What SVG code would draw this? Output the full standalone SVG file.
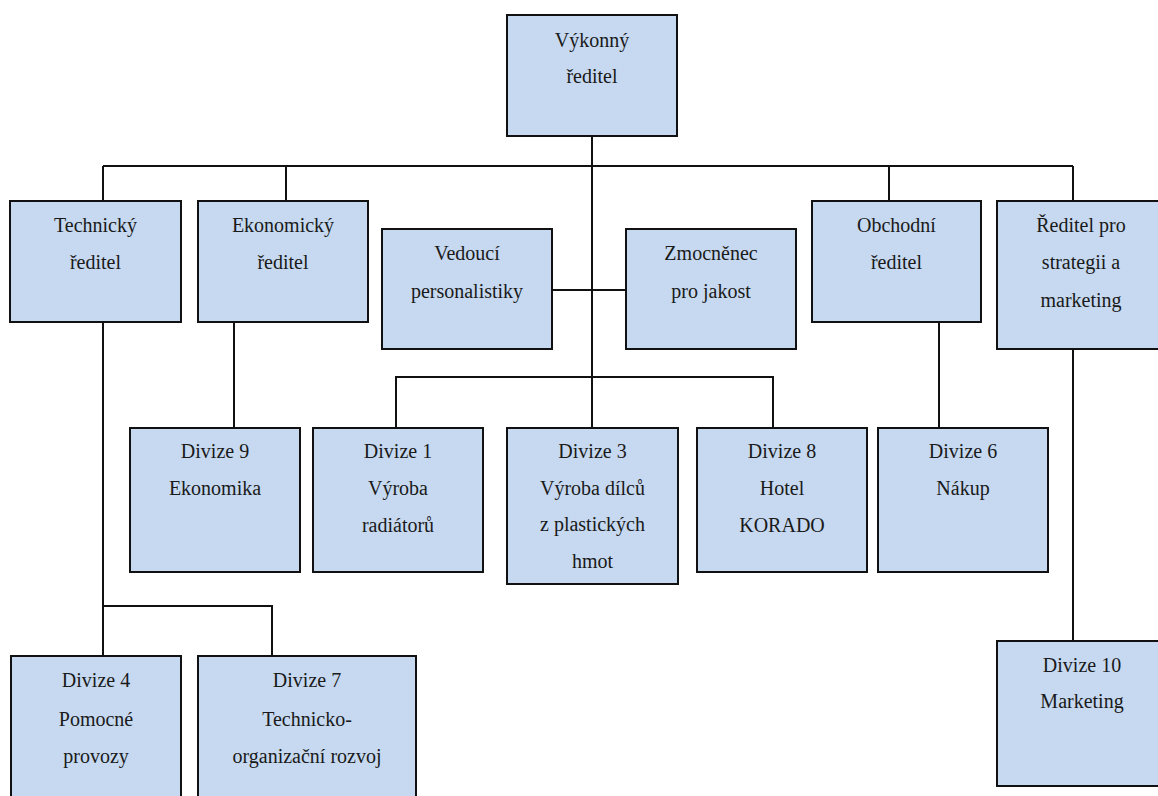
<svg xmlns="http://www.w3.org/2000/svg" width="1158" height="796" viewBox="0 0 1158 796" font-family="'Liberation Serif', Tinos, 'DejaVu Serif', 'Noto Serif', serif">
<style>
.box{fill:#c6d9f0;stroke:#111;stroke-width:2}
.t{font-size:20px;fill:#1a1a1a;text-anchor:middle}
.c{stroke:#111;stroke-width:2;fill:none}
</style>
<rect width="1158" height="796" fill="#fff"/>
<g id="connectors">
<path class="c" d="M592,136V428"/>
<path class="c" d="M103,166H1073"/>
<path class="c" d="M103,166V201M286,166V201M889,166V201M1073,166V201"/>
<path class="c" d="M552,290H626"/>
<path class="c" d="M396,428V377H773V428"/>
<path class="c" d="M234,322V428"/>
<path class="c" d="M939,322V428"/>
<path class="c" d="M1073,349V641"/>
<path class="c" d="M103,322V656M103,606H272V656"/>
</g>
<g id="vykonny"><rect class="box" x="507" y="15" width="170" height="121"/><text class="t" x="592" y="47">Výkonný</text><text class="t" x="592" y="83">ředitel</text></g>
<g id="technicky"><rect class="box" x="10" y="201" width="171" height="121"/><text class="t" x="95.5" y="232">Technický</text><text class="t" x="95.5" y="269">ředitel</text></g>
<g id="ekonomicky"><rect class="box" x="198" y="201" width="170" height="121"/><text class="t" x="283" y="232">Ekonomický</text><text class="t" x="283" y="269">ředitel</text></g>
<g id="vedouci"><rect class="box" x="382" y="229" width="170" height="120"/><text class="t" x="467" y="260">Vedoucí</text><text class="t" x="467" y="298">personalistiky</text></g>
<g id="zmocnenec"><rect class="box" x="626" y="229" width="170" height="120"/><text class="t" x="711" y="260">Zmocněnec</text><text class="t" x="711" y="298">pro jakost</text></g>
<g id="obchodni"><rect class="box" x="812" y="201" width="169" height="121"/><text class="t" x="896.5" y="232">Obchodní</text><text class="t" x="896.5" y="269">ředitel</text></g>
<g id="strategie"><rect class="box" x="997" y="201" width="170" height="148"/><text class="t" x="1081" y="232">Ředitel pro</text><text class="t" x="1081" y="269">strategii a</text><text class="t" x="1081" y="307">marketing</text></g>
<g id="divize9"><rect class="box" x="130" y="428" width="170" height="144"/><text class="t" x="215" y="458">Divize 9</text><text class="t" x="215" y="495">Ekonomika</text></g>
<g id="divize1"><rect class="box" x="313" y="428" width="170" height="144"/><text class="t" x="398" y="458">Divize 1</text><text class="t" x="398" y="495">Výroba</text><text class="t" x="398" y="532">radiátorů</text></g>
<g id="divize3"><rect class="box" x="507" y="428" width="171" height="156"/><text class="t" x="592.5" y="458">Divize 3</text><text class="t" x="592.5" y="494.5">Výroba dílců</text><text class="t" x="592.5" y="531">z plastických</text><text class="t" x="592.5" y="567.5">hmot</text></g>
<g id="divize8"><rect class="box" x="697" y="428" width="170" height="144"/><text class="t" x="782" y="458">Divize 8</text><text class="t" x="782" y="495">Hotel</text><text class="t" x="782" y="532">KORADO</text></g>
<g id="divize6"><rect class="box" x="878" y="428" width="170" height="144"/><text class="t" x="963" y="458">Divize 6</text><text class="t" x="963" y="495">Nákup</text></g>
<g id="divize4"><rect class="box" x="11" y="656" width="170" height="160"/><text class="t" x="96" y="687">Divize 4</text><text class="t" x="96" y="726">Pomocné</text><text class="t" x="96" y="763">provozy</text></g>
<g id="divize7"><rect class="box" x="198" y="656" width="218" height="160"/><text class="t" x="307" y="687">Divize 7</text><text class="t" x="307" y="726">Technicko-</text><text class="t" x="307" y="763">organizační rozvoj</text></g>
<g id="divize10"><rect class="box" x="997" y="641" width="170" height="145"/><text class="t" x="1082" y="672">Divize 10</text><text class="t" x="1082" y="708">Marketing</text></g>
</svg>
